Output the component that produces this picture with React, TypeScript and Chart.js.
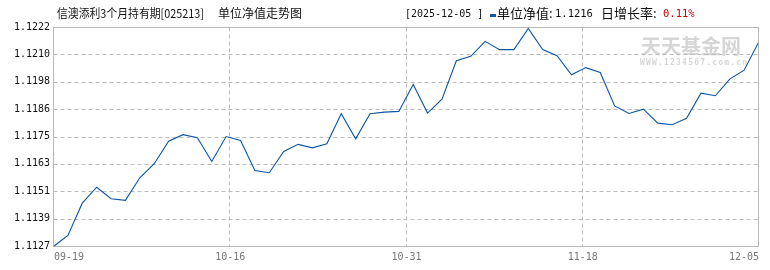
import React, { useEffect, useRef } from 'react';
import { Chart, registerables } from 'chart.js';
Chart.register(...registerables);

const titleText = '信澳添利3个月持有期[025213]';
const titleSuffix = '单位净值走势图';
const headerDate = '[2025-12-05 ]';
const headerNavLabel = '单位净值:';
const headerNavValue = '1.1216';
const headerRateLabel = '日增长率:';
const headerRateValue = '0.11%';

const xTickLabels = ['09-19', '10-16', '10-31', '11-18', '12-05'];
const yTickLabels = ['1.1127', '1.1139', '1.1151', '1.1163', '1.1175', '1.1186', '1.1198', '1.1210', '1.1222'];
const yMin = 1.1127;
const yMax = 1.1222;

const navValues = [
  1.1127, 1.11318, 1.11458, 1.11527, 1.11477, 1.1147, 1.11568, 1.11629, 1.11727, 1.11755,
  1.11742, 1.11639, 1.11747, 1.1173, 1.1160, 1.1159, 1.11682, 1.11713, 1.11698, 1.11716,
  1.11846, 1.11737, 1.11846, 1.11853, 1.11856, 1.11973, 1.11849, 1.11909, 1.12076, 1.12095,
  1.1216, 1.12124, 1.12124, 1.12216, 1.12124, 1.12098, 1.12015, 1.12046, 1.12025, 1.1188,
  1.11847, 1.11866, 1.11805, 1.11798, 1.11826, 1.11935, 1.11924, 1.11996, 1.12035, 1.12155,
];

const MONO = '"DejaVu Sans Mono", "Liberation Mono", monospace';
const CJK = '"Noto Sans CJK SC", "Noto Sans", sans-serif';

const decorPlugin = {
  id: 'decor',
  beforeDraw(chart: any) {
    const ctx = chart.ctx;
    ctx.save();
    ctx.fillStyle = '#ffffff';
    ctx.fillRect(0, 0, chart.width, chart.height);
    ctx.restore();
  },
  beforeDatasetsDraw(chart: any) {
    const ctx = chart.ctx;
    const { left, right, top, bottom } = chart.chartArea;
    const xs = chart.scales.x;
    const ys = chart.scales.y;
    const n = navValues.length;
    ctx.save();
    // watermark
    ctx.fillStyle = '#d6d6d6';
    ctx.font = `bold 20px ${CJK}`;
    ctx.textBaseline = 'middle';
    ctx.textAlign = 'left';
    ctx.fillText('天天基金网', 641, 46);
    ctx.font = `bold 8px ${MONO}`;
    (ctx as any).letterSpacing = '1.2px';
    ctx.fillText('WWW.1234567.com.cn', 640, 63);
    (ctx as any).letterSpacing = '0px';

    // grid
    ctx.strokeStyle = '#bbbbbb';
    ctx.lineWidth = 1;
    ctx.setLineDash([4, 3]);
    for (let k = 1; k < yTickLabels.length - 1; k++) {
      const v = yMin + (k * (yMax - yMin)) / (yTickLabels.length - 1);
      const py = Math.floor(ys.getPixelForValue(v)) + 0.5;
      ctx.beginPath();
      ctx.moveTo(left, py);
      ctx.lineTo(right, py);
      ctx.stroke();
    }
    for (let k = 1; k < xTickLabels.length - 1; k++) {
      const v = ((n - 1) * k) / (xTickLabels.length - 1);
      const px = Math.floor(xs.getPixelForValue(v)) + 0.5;
      ctx.beginPath();
      ctx.moveTo(px, top);
      ctx.lineTo(px, bottom);
      ctx.stroke();
    }
    ctx.setLineDash([]);
    ctx.strokeStyle = '#b8b8b8';
    ctx.strokeRect(left, top, right - left, bottom - top);

    // y labels
    ctx.fillStyle = '#111111';
    ctx.font = `10px ${MONO}`;
    ctx.textAlign = 'right';
    ctx.textBaseline = 'middle';
    for (let k = 0; k < yTickLabels.length; k++) {
      const v = yMin + (k * (yMax - yMin)) / (yTickLabels.length - 1);
      const py = ys.getPixelForValue(v);
      ctx.fillText(yTickLabels[k], 50, py - 0.5);
    }
    // x labels
    ctx.fillStyle = '#777777';
    ctx.textBaseline = 'top';
    for (let k = 0; k < xTickLabels.length; k++) {
      const v = ((n - 1) * k) / (xTickLabels.length - 1);
      const px = xs.getPixelForValue(v);
      ctx.textAlign = k === 0 ? 'left' : k === xTickLabels.length - 1 ? 'right' : 'center';
      ctx.fillText(xTickLabels[k], px + 0.5, 252);
    }

    // header
    ctx.textAlign = 'left';
    ctx.textBaseline = 'middle';
    ctx.fillStyle = '#111111';
    ctx.font = `12px ${CJK}`;
    ctx.fillText(titleText, 57, 13.5, 147);
    ctx.fillText(titleSuffix, 218, 13.5);
    ctx.font = `10px ${MONO}`;
    ctx.fillText(headerDate, 405, 14);
    ctx.fillStyle = '#0a58a8';
    ctx.fillRect(490, 14, 6, 3);
    ctx.fillStyle = '#111111';
    ctx.font = `13px ${CJK}`;
    ctx.fillText(headerNavLabel, 497, 13.5);
    ctx.font = `10.5px ${MONO}`;
    ctx.fillText(headerNavValue, 555, 14);
    ctx.font = `13px ${CJK}`;
    ctx.fillText(headerRateLabel, 601, 13.5);
    ctx.fillStyle = '#cc0000';
    ctx.font = `10.5px ${MONO}`;
    ctx.fillText(headerRateValue, 663, 14);
    ctx.restore();
  },
};

export default function App() {
  const ref = useRef<HTMLCanvasElement | null>(null);
  useEffect(() => {
    document.body.style.margin = '0';
    const canvas = ref.current;
    if (!canvas) return;
    const chart = new Chart(canvas, {
      type: 'line',
      data: {
        datasets: [
          {
            data: navValues.map((v, i) => ({ x: i, y: v })),
            borderColor: '#0a56a6',
            borderWidth: 1.1,
            pointRadius: 0,
            tension: 0,
            fill: false,
          },
        ],
      },
      options: {
        responsive: false,
        animation: false,
        devicePixelRatio: 1,
        layout: { padding: { left: 53.5, top: 27.5, right: 11.5, bottom: 23.5 } },
        plugins: { legend: { display: false }, tooltip: { enabled: false } },
        scales: {
          x: { type: 'linear', min: 0, max: navValues.length - 1, display: false },
          y: { type: 'linear', min: yMin, max: yMax, display: false },
        },
      },
      plugins: [decorPlugin],
    });
    return () => chart.destroy();
  }, []);
  return (
    <div style={{ width: 770, height: 270 }}>
      <canvas ref={ref} width={770} height={270} style={{ display: 'block' }} />
    </div>
  );
}
